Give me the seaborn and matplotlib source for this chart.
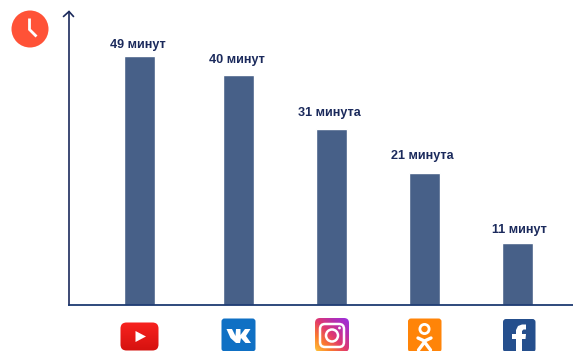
import numpy as np
import matplotlib
matplotlib.use("Agg")
import matplotlib.pyplot as plt
from matplotlib.patches import Circle, FancyBboxPatch, Polygon
from matplotlib.colors import LinearSegmentedColormap
import seaborn as sns

# Average daily time spent per network, in minutes
networks = ["YouTube", "VK", "Instagram", "OK", "Facebook"]
minutes = [49, 40, 31, 21, 11]
labels = ["49 минут", "40 минут", "31 минута", "21 минута", "11 минут"]

W, H = 573, 351
NAVY = "#1b2a5c"
BAR = "#476088"
AXIS = "#1c3a72"

# Horizontal layout, in pixels
bar_centres = [139.5, 238.5, 331.5, 424.5, 517.5]
label_shift = [(-2, 11), (-1.5, 15), (-2.5, 16), (-2.5, 17), (2, 13)]

# The value axis is not linear: each value has its own height in pixels
scale_values = [0, 11, 21, 31, 40, 49, 60]
scale_heights = [0, 62, 132, 176, 230, 249, 293]


def to_height(v):
    return np.interp(v, scale_values, scale_heights)


def to_value(h):
    return np.interp(h, scale_heights, scale_values)


sns.set_theme(style="white")
plt.rcParams["font.family"] = ["Liberation Sans", "DejaVu Sans"]

fig = plt.figure(figsize=(W / 100, H / 100), dpi=100)
left, right, top, base = 69, W, 12, 305
ax = fig.add_axes([left / W, 1 - base / H, (right - left) / W, (base - top) / H])

sns.barplot(x=bar_centres, y=minutes, native_scale=True, width=30.5 / 93,
            color=BAR, saturation=1, ax=ax)
ax.set_xlim(left, right)
ax.set_yscale("function", functions=(to_height, to_value))
ax.set_ylim(0, 60)
ax.set_xticks([])
ax.set_yticks([])
ax.set_xlabel("")
ax.set_ylabel("")
for side in ("top", "right"):
    ax.spines[side].set_visible(False)
ax.spines["bottom"].set_color(AXIS)
ax.spines["bottom"].set_linewidth(1.3)
ax.spines["left"].set_color(NAVY)
ax.spines["left"].set_linewidth(1.2)
ax.patch.set_alpha(0)

for xc, val, text, (dx, dy) in zip(bar_centres, minutes, labels, label_shift):
    ax.annotate(text, (xc, val), xytext=(dx * 0.72, dy * 0.72),
                textcoords="offset points", ha="center", va="center",
                fontsize=9.1, fontweight="bold", color=NAVY)

# Overlay in pixel coordinates for the arrow and the pictograms
ov = fig.add_axes([0, 0, 1, 1])
ov.set_xlim(0, W)
ov.set_ylim(H, 0)
ov.axis("off")
ov.patch.set_alpha(0)


def rounded(x0, y0, x1, y1, r, **kw):
    p = FancyBboxPatch((x0 + r, y0 + r), x1 - x0 - 2 * r, y1 - y0 - 2 * r,
                       boxstyle=f"round,pad={r},rounding_size={r}",
                       linewidth=kw.pop("linewidth", 0), **kw)
    ov.add_patch(p)
    return p


# Arrow tip of the value axis
ov.plot([63.5, 69, 73.5], [16.5, 11.5, 16.5], color=NAVY, lw=1.2,
        solid_capstyle="round", solid_joinstyle="miter")

# Clock
ov.add_patch(Circle((30, 29), 18.5, color="#ff5237", lw=0))
ov.plot([29.5, 29.5, 36.5], [18.5, 29.5, 36.5], color="white", lw=2,
        solid_joinstyle="miter", solid_capstyle="butt")

# YouTube
grad = np.linspace(0, 1, 64)[:, None]
red = LinearSegmentedColormap.from_list("yt", ["#f8221f", "#d5120f"])
box = rounded(120.5, 322.5, 158.5, 350.5, 6, facecolor="none")
im = ov.imshow(grad, extent=(120, 159, 351, 322), cmap=red, aspect="auto", zorder=2)
im.set_clip_path(box)
ov.add_patch(Polygon([(135.5, 331), (135.5, 342), (146, 336.5)], color="white", lw=0, zorder=3))

# VK
rounded(221.5, 318.5, 255.5, 351.5, 3, facecolor="#0f70c4")
ov.add_patch(Polygon([(226.5, 329), (232, 329), (235.5, 336), (236, 329), (240.5, 329),
                     (240.5, 335), (245, 329), (250.5, 329), (246, 336), (251, 343),
                     (245.5, 343), (241, 338), (240, 343), (236, 343), (230.5, 338)],
                     color="white", lw=0, zorder=3))

# Instagram
ig = LinearSegmentedColormap.from_list(
    "ig", ["#ffc83a", "#fb7a2e", "#e0386f", "#b52fb0", "#9a2fe0"])
xx, yy = np.meshgrid(np.linspace(0, 1, 80), np.linspace(0, 1, 80))
box = rounded(315, 318, 349, 352, 5, facecolor="none")
im = ov.imshow((xx + (1 - yy)) / 2, extent=(315, 349, 352, 318), cmap=ig,
               aspect="auto", zorder=2)
im.set_clip_path(box)
rounded(320, 324, 344, 347, 5, facecolor="none", edgecolor="white", linewidth=1.8, zorder=3)
ov.add_patch(Circle((332, 335.5), 6, fill=False, ec="white", lw=1.8, zorder=3))
ov.add_patch(Circle((339.5, 328), 1.4, color="white", lw=0, zorder=3))

# Odnoklassniki
rounded(408, 318.5, 441.5, 352, 3, facecolor="#ff8408")
ov.add_patch(Circle((424.5, 329), 4.6, fill=False, ec="white", lw=2, zorder=3))
ov.plot([418, 424.5, 431], [338, 341, 338], color="white", lw=2.4,
        solid_capstyle="round", zorder=3)
ov.plot([418.5, 424.5, 430.5], [350, 342, 350], color="white", lw=2.4,
        solid_capstyle="round", zorder=3)

# Facebook
rounded(503, 319, 535.5, 352, 3, facecolor="#254f8d")
ov.add_patch(Polygon([(516, 352), (516, 339), (512, 339), (512, 334), (516, 334), (516, 330),
                     (518, 326), (522, 324.5), (526, 324.5), (526, 329.5), (523.5, 329.5),
                     (522, 331), (522, 334), (526, 334), (525.5, 339), (522, 339), (522, 352)],
                     color="white", lw=0, zorder=3))

ov.set_xlim(0, W)
ov.set_ylim(H, 0)
fig.savefig("out.png", dpi=100, facecolor="white")
